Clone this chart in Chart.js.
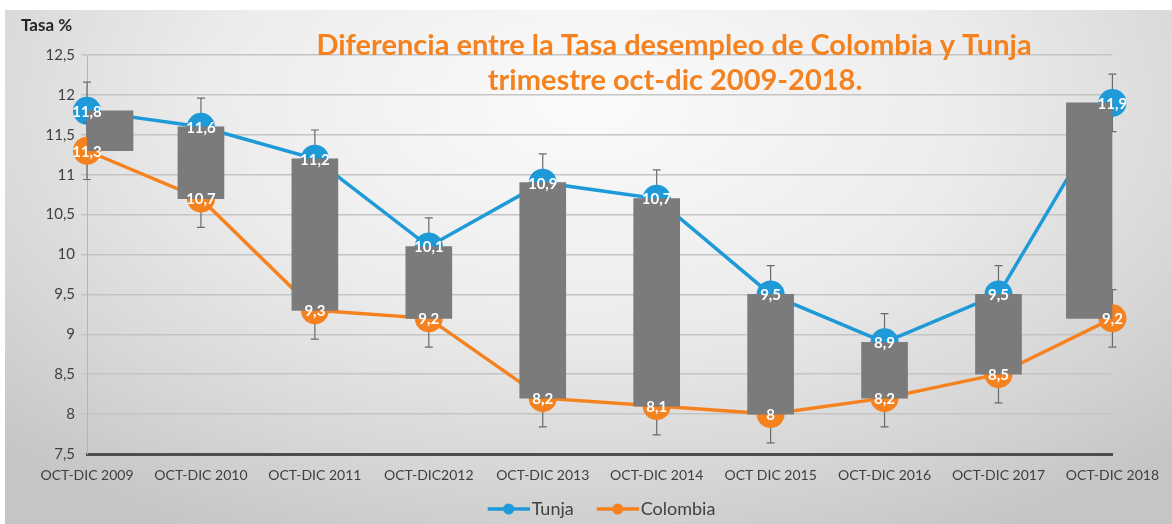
<!DOCTYPE html>
<html>
<head>
<meta charset="utf-8">
<script src="https://cdn.jsdelivr.net/npm/chart.js@4.4.1/dist/chart.umd.min.js"></script>
<style>
  html, body { margin: 0; padding: 0; background: #ffffff; }
  #bg {
    position: absolute; left: 5px; top: 10px; width: 1167px; height: 514px;
    background: radial-gradient(ellipse 72% 95% at 50% 18%, #fbfbfb 0%, #ececec 45%, #d4d4d4 80%, #c5c5c5 100%);
  }
  #chart { position: absolute; left: 0; top: 0; }
</style>
</head>
<body>
<div id="bg"></div>
<canvas id="chart" width="1172" height="524"></canvas>
<script>
// data
const categories = ['OCT-DIC 2009', 'OCT-DIC 2010', 'OCT-DIC 2011', 'OCT-DIC2012', 'OCT-DIC 2013',
	'OCT-DIC 2014', 'OCT DIC 2015', 'OCT-DIC 2016', 'OCT-DIC 2017', 'OCT-DIC 2018'];
const tunja = [11.8, 11.6, 11.2, 10.1, 10.9, 10.7, 9.5, 8.9, 9.5, 11.9];
const colombia = [11.3, 10.7, 9.3, 9.2, 8.2, 8.1, 8.0, 8.2, 8.5, 9.2];
const errorMargin = 0.36;
const yTicks = { min: 7.5, max: 12.5, step: 0.5 };

const titleLines = ['Diferencia entre la Tasa desempleo de Colombia y Tunja', 'trimestre oct-dic 2009-2018.'];
const yAxisTitle = 'Tasa %';

const BLUE = '#1e9ad8';
const ORANGE = '#f5821f';
const FONT = 'Lato, "Open Sans", sans-serif';

const fmt = (v) => String(v).replace('.', ',');

// legend icon: line with a dot in the middle (Excel style), pushed to the right
// so that it sits close to its text and further from the previous item
const ICON_BOX = 48;
function legendIcon(color) {
	let c = document.createElement('canvas');
	c.width = ICON_BOX + 14;
	c.height = 14;
	let g = c.getContext('2d');
	let x0 = c.width - 42;
	g.strokeStyle = color;
	g.lineWidth = 3.5;
	g.beginPath();
	g.moveTo(x0, 7);
	g.lineTo(c.width, 7);
	g.stroke();
	g.fillStyle = color;
	g.beginPath();
	g.arc(x0 + 21, 7, 5.5, 0, Math.PI * 2);
	g.fill();
	return c;
}
const icons = [legendIcon(BLUE), legendIcon(ORANGE)];

// up/down bars at the first and last category are pushed inside the plot, as Excel does
const clampBars = {
	id: 'clampBars',
	afterDatasetsUpdate(chart) {
		let area = chart.chartArea;
		chart.getSortedVisibleDatasetMetas().forEach((meta) => {
			if (meta.type !== 'bar') return;
			meta.data.forEach((el) => {
				let half = el.width / 2;
				el.x = Math.min(Math.max(el.x, area.left + half), area.right - half);
			});
		});
	},
	// legend sits a little right of the plot centre and lower in the original
	afterLayout(chart) {
		chart.legend.left += 30;
		chart.legend.right += 30;
		chart.legend.top += 4;
		chart.legend.bottom += 4;
	},
};

const errorBars = {
	id: 'errorBars',
	beforeDatasetDraw(chart, args) {
		let meta = args.meta;
		if (meta.type !== 'line') return;
		let y = chart.scales.y;
		let ctx = chart.ctx;
		let values = chart.data.datasets[meta.index].data;
		ctx.save();
		ctx.strokeStyle = '#6b6b6b';
		ctx.lineWidth = 1.2;
		meta.data.forEach((pt, i) => {
			let top = y.getPixelForValue(values[i] + errorMargin);
			let bot = y.getPixelForValue(values[i] - errorMargin);
			ctx.beginPath();
			ctx.moveTo(pt.x, top);
			ctx.lineTo(pt.x, bot);
			ctx.moveTo(pt.x - 4, top);
			ctx.lineTo(pt.x + 4, top);
			ctx.moveTo(pt.x - 4, bot);
			ctx.lineTo(pt.x + 4, bot);
			ctx.stroke();
		});
		ctx.restore();
	},
};

const pointLabels = {
	id: 'pointLabels',
	afterDatasetsDraw(chart) {
		let ctx = chart.ctx;
		ctx.save();
		ctx.font = 'bold 15px ' + FONT;
		ctx.fillStyle = '#ffffff';
		ctx.textAlign = 'center';
		ctx.textBaseline = 'middle';
		chart.getSortedVisibleDatasetMetas().forEach((meta) => {
			if (meta.type !== 'line') return;
			let values = chart.data.datasets[meta.index].data;
			meta.data.forEach((pt, i) => {
				ctx.fillText(fmt(values[i]), pt.x, pt.y + 1);
			});
		});
		ctx.restore();
	},
};

const titles = {
	id: 'titles',
	afterDraw(chart) {
		let ctx = chart.ctx;
		ctx.save();
		ctx.fillStyle = ORANGE;
		ctx.font = 'bold 29px ' + FONT;
		ctx.textAlign = 'center';
		ctx.textBaseline = 'middle';
		ctx.fillText(titleLines[0], 674, 46);
		ctx.fillText(titleLines[1], 675, 81);
		ctx.fillStyle = '#262626';
		ctx.font = 'bold 17px ' + FONT;
		ctx.textAlign = 'left';
		ctx.fillText(yAxisTitle, 21, 26);
		ctx.restore();
	},
};

const ctx = document.getElementById('chart');
new Chart(ctx, {
	type: 'line',
	data: {
		labels: categories,
		datasets: [
			{
				label: 'Tunja',
				data: tunja,
				borderColor: BLUE,
				backgroundColor: BLUE,
				borderWidth: 3.5,
				pointRadius: 14,
				pointBorderWidth: 0,
				pointBackgroundColor: BLUE,
				tension: 0,
				clip: false,
				order: 2,
			},
			{
				label: 'Colombia',
				data: colombia,
				borderColor: ORANGE,
				backgroundColor: ORANGE,
				borderWidth: 3.5,
				pointRadius: 14,
				pointBorderWidth: 0,
				pointBackgroundColor: ORANGE,
				tension: 0,
				clip: false,
				order: 1,
			},
			{
				type: 'bar',
				label: 'updown',
				data: tunja.map((t, i) => [colombia[i], t]),
				backgroundColor: '#7b7b7b',
				borderWidth: 0,
				barThickness: 46,
				order: 0,
			},
		],
	},
	options: {
		responsive: false,
		animation: false,
		layout: { padding: { left: 0, right: 42, top: 55, bottom: 0 } },
		scales: {
			x: {
				offset: false,
				grid: { display: false, drawTicks: false },
				border: { color: '#4d4d4d', width: 3 },
				ticks: {
					color: '#404040',
					font: { family: FONT, size: 14 },
					padding: 13,
					maxRotation: 0,
					autoSkip: false,
				},
				afterFit(scale) {
					scale.height = 32;
				},
			},
			y: {
				min: yTicks.min,
				max: yTicks.max,
				grid: { color: '#c4c4c4', lineWidth: 1.5, tickLength: 6 },
				border: { color: '#b5b5b5', width: 1 },
				ticks: {
					stepSize: yTicks.step,
					color: '#404040',
					font: { family: FONT, size: 15 },
					padding: 6,
					callback: (v) => fmt(v),
				},
				afterFit(scale) {
					scale.width = 87;
				},
			},
		},
		plugins: {
			title: { display: false },
			tooltip: { enabled: false },
			legend: {
				position: 'bottom',
				labels: {
					color: '#404040',
					font: { family: FONT, size: 18 },
					usePointStyle: true,
					pointStyleWidth: ICON_BOX,
					padding: 10,
					generateLabels(chart) {
						let items = Chart.defaults.plugins.legend.labels.generateLabels(chart);
						return items
							.filter((it) => it.datasetIndex < 2)
							.sort((a, b) => a.datasetIndex - b.datasetIndex)
							.map((it) => Object.assign(it, { pointStyle: icons[it.datasetIndex] }));
					},
				},
			},
		},
	},
	plugins: [clampBars, errorBars, pointLabels, titles],
});
</script>
</body>
</html>
